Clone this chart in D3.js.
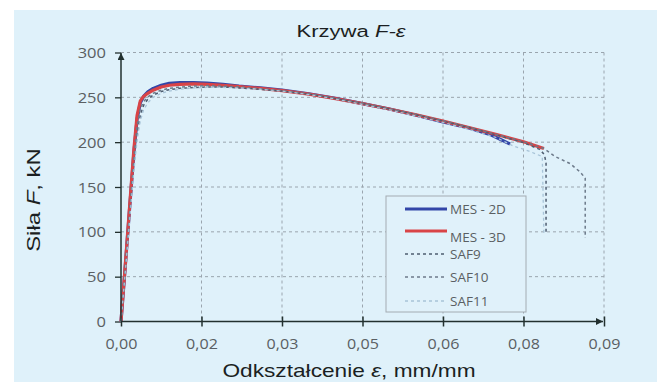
<!DOCTYPE html>
<html>
<head>
<meta charset="utf-8">
<script src="https://cdn.jsdelivr.net/npm/d3@7"></script>
<style>
  body { margin: 0; background: #fff; }
  svg { display: block; }
</style>
</head>
<body>
<div id="chart"></div>
<script>
// strain ticks are placed every 0.015 and printed with 2 decimals, like the source
const xTicks = [0, 0.015, 0.03, 0.045, 0.06, 0.075, 0.09];
const xTickLabels = ['0,00', '0,02', '0,03', '0,05', '0,06', '0,08', '0,09'];
const yTicks = [0, 50, 100, 150, 200, 250, 300];

const eps2D = [0, 0.0008, 0.0016, 0.0024, 0.0030, 0.0036, 0.0042, 0.0050, 0.0060, 0.0075, 0.0090, 0.0110, 0.0135, 0.0160, 0.0190, 0.0220, 0.0260, 0.0300, 0.0350, 0.0400, 0.0450, 0.0500, 0.0550, 0.0600, 0.0650, 0.0690, 0.0725];
const f2D   = [0, 62, 126, 188, 226, 244, 251, 256, 260, 263.5, 265.5, 266.5, 266.5, 266, 264.5, 262.5, 260.5, 258, 254, 249, 243, 237, 230, 222.5, 215.5, 208, 198];

const eps3D = [0, 0.0008, 0.0016, 0.0024, 0.0030, 0.0036, 0.0042, 0.0050, 0.0060, 0.0075, 0.0090, 0.0110, 0.0135, 0.0160, 0.0190, 0.0220, 0.0260, 0.0300, 0.0350, 0.0400, 0.0450, 0.0500, 0.0550, 0.0600, 0.0650, 0.0700, 0.0750, 0.0788];
const f3D   = [0, 63, 128, 192, 230, 246, 251, 254.5, 258, 261.5, 263.5, 264.5, 265, 264.5, 263.5, 262, 260, 257.5, 253.5, 248.5, 243, 237, 230.5, 223.5, 216, 208.5, 200.5, 193];

const epsSAF9 = [0, 0.0008, 0.0016, 0.0024, 0.0030, 0.0036, 0.0042, 0.0050, 0.0060, 0.0075, 0.0090, 0.0110, 0.0135, 0.0160, 0.0190, 0.0220, 0.0260, 0.0300, 0.0350, 0.0400, 0.0450, 0.0500, 0.0550, 0.0600, 0.0650, 0.0700, 0.0750, 0.0780, 0.0789, 0.0792, 0.0792];
const fSAF9   = [0, 58, 118, 176, 209, 230, 241, 248, 252.5, 256.5, 258.5, 260, 261, 261.5, 261.5, 260.5, 259, 257, 253.5, 248.5, 243, 237, 230.5, 223.5, 216, 208, 199.5, 192, 186, 177, 100];

const epsSAF10 = [0, 0.0008, 0.0016, 0.0024, 0.0030, 0.0036, 0.0042, 0.0050, 0.0060, 0.0075, 0.0090, 0.0110, 0.0135, 0.0160, 0.0190, 0.0220, 0.0260, 0.0300, 0.0350, 0.0400, 0.0450, 0.0500, 0.0550, 0.0600, 0.0650, 0.0700, 0.0750, 0.0788, 0.0809, 0.0837, 0.0855, 0.0865, 0.0865];
const fSAF10   = [0, 60, 122, 182, 218, 237, 245, 250.5, 254.5, 258, 260, 261.5, 262.5, 263, 262.5, 261.5, 259.5, 257.5, 254, 249, 243.5, 237.5, 231, 224, 216.5, 208.5, 200.5, 193, 184, 176, 167, 160, 93];

const epsSAF11 = [0, 0.0008, 0.0016, 0.0024, 0.0030, 0.0036, 0.0042, 0.0050, 0.0060, 0.0075, 0.0090, 0.0110, 0.0135, 0.0160, 0.0190, 0.0220, 0.0260, 0.0300, 0.0350, 0.0400, 0.0450, 0.0500, 0.0550, 0.0600, 0.0650, 0.0700, 0.0730, 0.0760, 0.0785, 0.0788];
const fSAF11   = [0, 55, 112, 168, 202, 224, 236, 244, 250, 254.5, 257, 259, 260.5, 261, 261, 260.5, 259, 257, 253, 248, 242, 236, 229, 222, 214, 205, 196, 190, 184, 98];

const seriesNames = ['MES - 2D', 'MES - 3D', 'SAF9', 'SAF10', 'SAF11'];

const series = [
  { name: seriesNames[0], eps: eps2D, f: f2D, color: '#3346a8', width: 3.2, dash: null },
  { name: seriesNames[1], eps: eps3D, f: f3D, color: '#d94447', width: 3.2, dash: null },
  { name: seriesNames[2], eps: epsSAF9, f: fSAF9, color: '#4e5d70', width: 1.5, dash: '3,3' },
  { name: seriesNames[3], eps: epsSAF10, f: fSAF10, color: '#6d7a8a', width: 1.5, dash: '3,3' },
  { name: seriesNames[4], eps: epsSAF11, f: fSAF11, color: '#a8c4d8', width: 1.3, dash: '3,3' }
];

const W = 657, H = 382;
const svg = d3.select('#chart').append('svg')
  .attr('width', W)
  .attr('height', H);

svg.append('rect').attr('width', W).attr('height', H).attr('fill', '#fff');
svg.append('rect')
  .attr('x', 14).attr('y', 10)
  .attr('width', W - 14).attr('height', H - 10)
  .attr('fill', '#dff1fa');

const defs = svg.append('defs');
defs.append('marker')
  .attr('id', 'arrow')
  .attr('viewBox', '0 0 10 10')
  .attr('refX', 10).attr('refY', 5)
  .attr('markerWidth', 10).attr('markerHeight', 7)
  .attr('markerUnits', 'userSpaceOnUse')
  .attr('orient', 'auto')
  .append('path')
  .attr('d', 'M0,0 L10,5 L0,10 Z')
  .attr('fill', '#22302f');

const x = d3.scaleLinear().domain([0, 0.09]).range([121, 604]);
const y = d3.scaleLinear().domain([0, 300]).range([321.5, 52.5]);

// grid
const grid = svg.append('g')
  .attr('stroke', '#9aa5ae')
  .attr('stroke-width', 1)
  .attr('stroke-dasharray', '3,3');
grid.selectAll('.hg')
  .data(yTicks.slice(1))
  .join('line')
  .attr('x1', x(0)).attr('x2', x(0.09))
  .attr('y1', d => y(d)).attr('y2', d => y(d));
grid.selectAll('.vg')
  .data(xTicks.slice(1))
  .join('line')
  .attr('x1', d => x(d)).attr('x2', d => x(d))
  .attr('y1', y(300)).attr('y2', y(0));

// y axis
const yAxis = svg.append('g')
  .attr('transform', 'translate(' + x(0) + ',0)')
  .call(d3.axisLeft(y).tickValues(yTicks).tickSize(6).tickPadding(0));
yAxis.select('.domain').remove();
yAxis.selectAll('line').attr('stroke', '#22302f').attr('stroke-width', 1.3);
yAxis.selectAll('text')
  .attr('x', null).attr('dy', '0.36em')
  .attr('transform', 'translate(-15,0) scale(1.18,1)')
  .attr('fill', '#5a5f63')
  .style('font-family', '"Open Sans", sans-serif')
  .style('font-size', '14px');

// x axis
const xAxis = svg.append('g')
  .attr('transform', 'translate(0,' + y(0) + ')')
  .call(d3.axisBottom(x).tickValues(xTicks).tickFormat((d, i) => xTickLabels[i]).tickSize(5));
xAxis.select('.domain').remove();
xAxis.selectAll('line').attr('y1', -5).attr('y2', 5).attr('stroke', '#22302f').attr('stroke-width', 1.5);
xAxis.selectAll('text')
  .attr('y', 0).attr('dy', null)
  .attr('transform', 'translate(0,27.5) scale(1.15,1)')
  .attr('fill', '#5a5f63')
  .style('font-family', '"Open Sans", sans-serif')
  .style('font-size', '14px');

// curves
const line = d3.line()
  .x(d => x(d[0]))
  .y(d => y(d[1]))
  .curve(d3.curveLinear);

svg.append('g').selectAll('path')
  .data(series)
  .join('path')
  .attr('d', s => line(s.eps.map((e, i) => [e, s.f[i]])))
  .attr('fill', 'none')
  .attr('stroke', s => s.color)
  .attr('stroke-width', s => s.width)
  .attr('stroke-dasharray', s => s.dash)
  .attr('stroke-linejoin', 'round');

// axis lines with arrows
svg.append('line')
  .attr('x1', x(0)).attr('x2', x(0))
  .attr('y1', y(0)).attr('y2', y(300) + 0.5)
  .attr('stroke', '#22302f').attr('stroke-width', 1.5)
  .attr('marker-end', 'url(#arrow)');
svg.append('line')
  .attr('x1', x(0)).attr('x2', x(0.09) - 1)
  .attr('y1', y(0)).attr('y2', y(0))
  .attr('stroke', '#22302f').attr('stroke-width', 1.5)
  .attr('marker-end', 'url(#arrow)');

// legend
const legend = svg.append('g');
legend.append('rect')
  .attr('x', 386).attr('y', 196)
  .attr('width', 140).attr('height', 116)
  .attr('fill', '#e0f1fa')
  .attr('stroke', '#a4acb2')
  .attr('stroke-width', 1);

const legendLineY = [209, 231, 254, 277, 301];
const legendTextY = [214, 242, 259, 282, 306];
series.forEach((s, i) => {
  legend.append('line')
    .attr('x1', 405).attr('x2', 447)
    .attr('y1', legendLineY[i]).attr('y2', legendLineY[i])
    .attr('stroke', s.color)
    .attr('stroke-width', s.width)
    .attr('stroke-dasharray', s.dash);
  legend.append('text')
    .attr('x', 450).attr('y', legendTextY[i])
    .attr('fill', '#5a5f63')
    .style('font-family', '"Open Sans", sans-serif')
    .style('font-size', '13.5px')
    .text(s.name);
});

// titles
const title = svg.append('text')
  .attr('transform', 'translate(351,37) scale(1.3,1)')
  .attr('text-anchor', 'middle')
  .attr('fill', '#1b1f22')
  .style('font-family', '"Liberation Sans", Arial, sans-serif')
  .style('font-size', '17px');
title.append('tspan').text('Krzywa ');
title.append('tspan').style('font-style', 'italic').text('F-ε');

const xTitle = svg.append('text')
  .attr('transform', 'translate(349,377) scale(1.26,1)')
  .attr('text-anchor', 'middle')
  .attr('fill', '#1b1f22')
  .style('font-family', '"Liberation Sans", Arial, sans-serif')
  .style('font-size', '18px');
xTitle.append('tspan').text('Odkształcenie ');
xTitle.append('tspan').style('font-style', 'italic').text('ε');
xTitle.append('tspan').text(', mm/mm');

const yTitle = svg.append('text')
  .attr('transform', 'translate(40,200) rotate(-90) scale(1.33,1)')
  .attr('text-anchor', 'middle')
  .attr('fill', '#1b1f22')
  .style('font-family', '"Liberation Sans", Arial, sans-serif')
  .style('font-size', '18px');
yTitle.append('tspan').text('Siła ');
yTitle.append('tspan').style('font-style', 'italic').text('F');
yTitle.append('tspan').text(', kN');
</script>
</body>
</html>
